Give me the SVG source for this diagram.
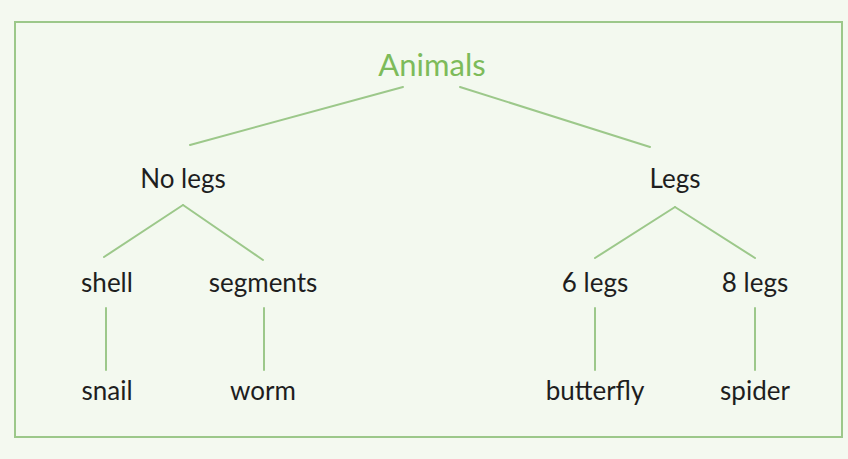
<svg xmlns="http://www.w3.org/2000/svg" width="848" height="459" viewBox="0 0 848 459">
<style>
.t{font-family:Lato,"Open Sans","Liberation Sans",sans-serif;font-size:26px;fill:#1e1e1e;text-anchor:middle}
.root{font-size:31px;fill:#7dbb5a}
.c line{stroke:#9cc88a;stroke-width:2;stroke-linecap:round}
</style>
<rect width="848" height="459" fill="#f4f9f0"/>
<rect x="15" y="22" width="827" height="415" fill="#f3f9ef" stroke="#9cc88a" stroke-width="2"/>
<g class="c" id="connectors">
<line x1="403" y1="87" x2="190" y2="145"/>
<line x1="460" y1="87" x2="650" y2="147"/>
<line x1="183" y1="205" x2="104" y2="257"/>
<line x1="183" y1="205" x2="263" y2="260"/>
<line x1="675" y1="207" x2="595" y2="258"/>
<line x1="675" y1="207" x2="755" y2="258"/>
<line x1="106" y1="308" x2="106" y2="370"/>
<line x1="264" y1="308" x2="264" y2="370"/>
<line x1="595" y1="308" x2="595" y2="370"/>
<line x1="755" y1="308" x2="755" y2="370"/>
</g>
<g id="animals"><text class="t root" x="432" y="76">Animals</text></g>
<g id="nolegs"><text class="t" x="183" y="188">No legs</text></g>
<g id="legs"><text class="t" x="675" y="188">Legs</text></g>
<g id="shell"><text class="t" x="107" y="292">shell</text></g>
<g id="segments"><text class="t" x="263" y="292">segments</text></g>
<g id="sixlegs"><text class="t" x="595" y="292">6 legs</text></g>
<g id="eightlegs"><text class="t" x="755" y="292">8 legs</text></g>
<g id="snail"><text class="t" x="107" y="400">snail</text></g>
<g id="worm"><text class="t" x="263" y="400">worm</text></g>
<g id="butterfly"><text class="t" x="595" y="400">butterfly</text></g>
<g id="spider"><text class="t" x="755" y="400">spider</text></g>
</svg>
